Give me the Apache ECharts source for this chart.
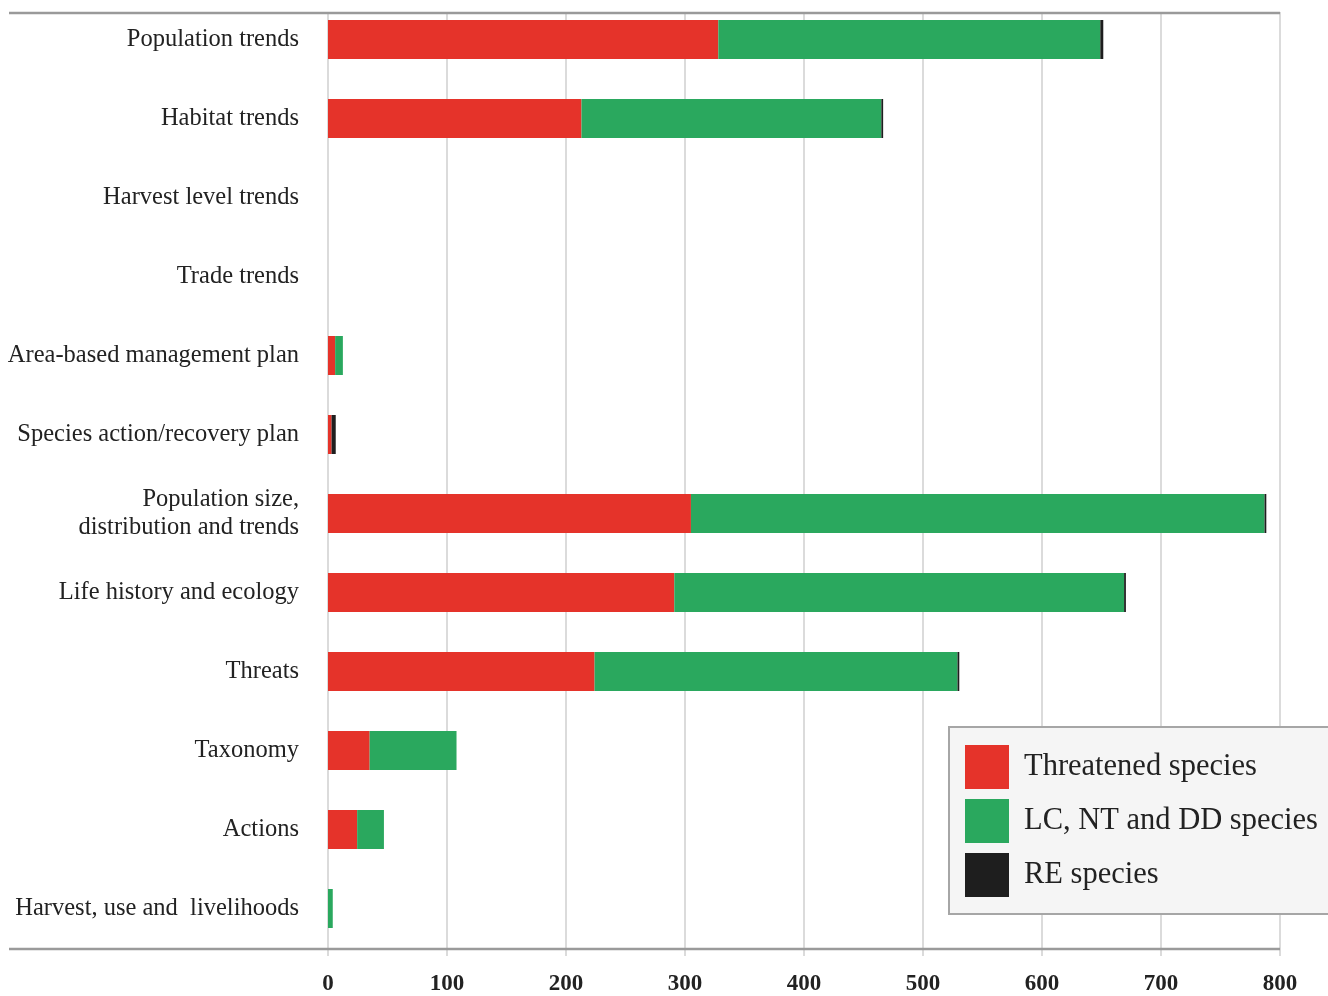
<!DOCTYPE html>
<html>
<head>
<meta charset="utf-8">
<script src="https://cdn.jsdelivr.net/npm/echarts@6/dist/echarts.min.js"></script>
<style>
html,body{margin:0;padding:0;background:#fff;}
#chart{width:1328px;height:996px;}
</style>
</head>
<body>
<div id="chart"></div>
<script>
const categories = [
  'Population trends',
  'Habitat trends',
  'Harvest level trends',
  'Trade trends',
  'Area-based management plan',
  'Species action/recovery plan',
  'Population size,\ndistribution and trends',
  'Life history and ecology',
  'Threats',
  'Taxonomy',
  'Actions',
  'Harvest, use and  livelihoods'
];
const seriesNames = ['Threatened species', 'LC, NT and DD species', 'RE species'];
const threatened = [328, 213, 0, 0, 6, 3, 305, 291, 224, 35, 24.5, 0];
const lcNtDd     = [321, 252, 0, 0, 6.5, 0, 482, 378, 305, 73, 22.5, 4];
const reSpecies  = [2.5, 1.5, 0, 0, 0, 3.5, 1.5, 1.5, 1.5, 0, 0, 0];
const xTicks = [0, 100, 200, 300, 400, 500, 600, 700, 800];

const colors = ['#e5332a', '#2aa85e', '#1e1e1e'];
const FONT = '"Liberation Serif", "DejaVu Serif", serif';

const chart = echarts.init(document.getElementById('chart'));
const values = [threatened, lcNtDd, reSpecies];

chart.setOption({
  animation: false,
  grid: { left: 328, right: 48, top: -3, bottom: 47, containLabel: false },
  xAxis: {
    type: 'value',
    min: xTicks[0],
    max: xTicks[xTicks.length - 1],
    interval: 100,
    axisLine: { show: false },
    axisTick: { show: true, length: 8, lineStyle: { color: '#cfcfcf', width: 1.5 } },
    splitLine: { show: true, lineStyle: { color: '#cfcfcf', width: 1.5 } },
    axisLabel: {
      margin: 25,
      fontFamily: FONT, fontSize: 23, fontWeight: 'bold', color: '#222'
    }
  },
  yAxis: {
    type: 'category',
    inverse: true,
    data: categories,
    axisLine: { show: false },
    axisTick: { show: false },
    splitLine: { show: false },
    axisLabel: {
      margin: 29,
      fontFamily: FONT, fontSize: 24.5, color: '#222', lineHeight: 28, align: 'right'
    }
  },
  legend: {
    orient: 'vertical',
    left: 949,
    top: 727,
    padding: [18, 30, 17, 16],
    itemWidth: 44,
    itemHeight: 44,
    itemGap: 10,
    icon: 'rect',
    backgroundColor: '#f5f5f5',
    borderColor: '#a6a6a6',
    borderWidth: 2,
    borderRadius: 0,
    textStyle: { fontFamily: FONT, fontSize: 30.5, color: '#222', padding: [3, 0, 0, 10] },
    data: seriesNames
  },
  series: seriesNames.map((name, i) => ({
    name: name,
    type: 'bar',
    stack: 'total',
    barWidth: 39,
    itemStyle: { color: colors[i] },
    data: values[i]
  })),
  graphic: [
    { type: 'rect', z: 100, shape: { x: 0, y: -5, width: 1328, height: 17 }, style: { fill: '#fff' } },
    { type: 'line', z: 101, shape: { x1: 9, y1: 13, x2: 1280, y2: 13 }, style: { stroke: '#9a9a9a', lineWidth: 2.5 } },
    { type: 'line', z: 101, shape: { x1: 9, y1: 949, x2: 1280, y2: 949 }, style: { stroke: '#9a9a9a', lineWidth: 2.5 } }
  ]
});
</script>
</body>
</html>
